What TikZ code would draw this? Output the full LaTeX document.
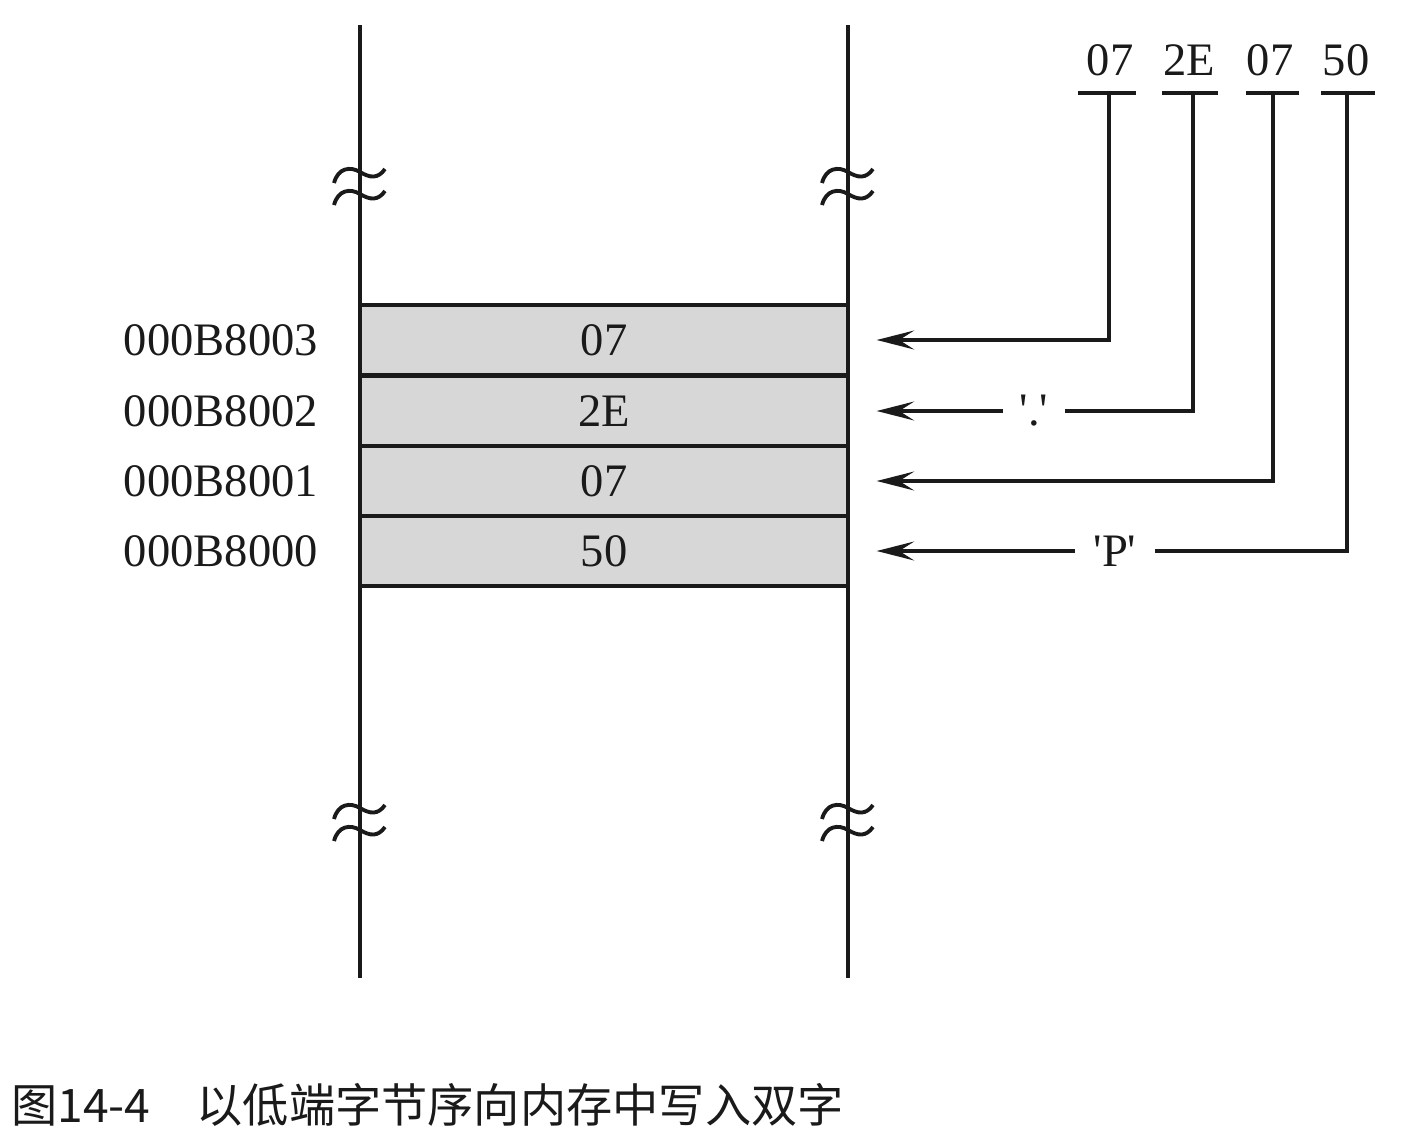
\documentclass[tikz,border=0pt]{standalone}
\usepackage{fontspec}
\setmainfont{Liberation Serif}
\newfontfamily\cjk{Noto Sans CJK SC}
\usetikzlibrary{arrows.meta, positioning}
\definecolor{memFill}{HTML}{D7D7D7}
\definecolor{memInk}{HTML}{1A1A1A}

\begin{document}
\begin{tikzpicture}[x=0.02cm, y=-0.02cm, font=\fontsize{26.5}{30}\selectfont,
        cell/.style={draw=memInk, line width=2pt, fill=memFill, minimum width=9.76cm, minimum height=1.4cm, inner sep=0pt, text=memInk},
        addr/.style={text=memInk, inner sep=0pt},
        hex/.style={text=memInk, inner sep=0pt},
        chr/.style={text=memInk, inner sep=0pt},
        wall/.style={memInk, line width=2pt},
        bar/.style={memInk, line width=1.9pt},
        feed/.style={-{Stealth[length=7.5mm, width=3.8mm, inset=3mm]}, memInk, line width=1.9pt}]
        \useasboundingbox (0,0) rectangle (1401,1143);
        % memory cells
        \node[cell] (m3) at (604,340) {07};
        \node[cell] (m2) at (604,411) {2E};
        \node[cell] (m1) at (604,481) {07};
        \node[cell] (m0) at (604,551) {50};
        \node[addr, left=0.8cm of m3] (a3) {000B8003};
        \node[addr, left=0.8cm of m2] (a2) {000B8002};
        \node[addr, left=0.8cm of m1] (a1) {000B8001};
        \node[addr, left=0.8cm of m0] (a0) {000B8000};
        % walls with breaks
        \coordinate (lt) at (360,25);
        \coordinate (lb) at (360,978);
        \coordinate (rt) at (848,25);
        \coordinate (rb) at (848,978);
        \draw[wall] (lt) -- (lb);
        \draw[wall] (rt) -- (rb);
        \foreach \bx in {360,848}
          \foreach \by in {174,196,810,832}
            \draw[bar, line width=2.2pt, shift={(\bx,\by)}] (-26,9) .. controls (-22,-6) and (-10,-8) .. (0,-2) .. controls (10,4) and (18,5) .. (25,-5);
        % the double word
        \node[hex] (h3) at (1110,60) {07};
        \node[hex] (h2) at (1189,60) {2E};
        \node[hex] (h1) at (1270,60) {07};
        \node[hex] (h0) at (1346,60) {50};
        \draw[bar] (1078,93) -- (1136,93);
        \draw[bar] (1162,93) -- (1218,93);
        \draw[bar] (1246,93) -- (1299,93);
        \draw[bar] (1321,93) -- (1375,93);
        \coordinate (u3) at (1109,93);
        \coordinate (u2) at (1193,93);
        \coordinate (u1) at (1273,93);
        \coordinate (u0) at (1347,93);
        \coordinate[right=0.54cm of m3] (e3);
        \coordinate[right=0.54cm of m2] (e2);
        \coordinate[right=0.54cm of m1] (e1);
        \coordinate[right=0.54cm of m0] (e0);
        \node[chr, minimum width=1.24cm] (q2) at (1034,411) {\textquotesingle.\textquotesingle};
        \node[chr, minimum width=1.6cm] (q0) at (1115,551) {\textquotesingle P\textquotesingle};
        \draw[feed] (u3) |- (e3);
        \draw[bar] (u2) |- (q2.east);
        \draw[feed] (q2.west) -- (e2);
        \draw[feed] (u1) |- (e1);
        \draw[bar] (u0) |- (q0.east);
        \draw[feed] (q0.west) -- (e0);
        % caption
        \node[anchor=west, inner sep=0pt, text=memInk, font=\cjk\fontsize{26.3}{30}\selectfont] (cap) at (11,1105) {图14-4　以低端字节序向内存中写入双字};
      \end{tikzpicture}
\end{document}
